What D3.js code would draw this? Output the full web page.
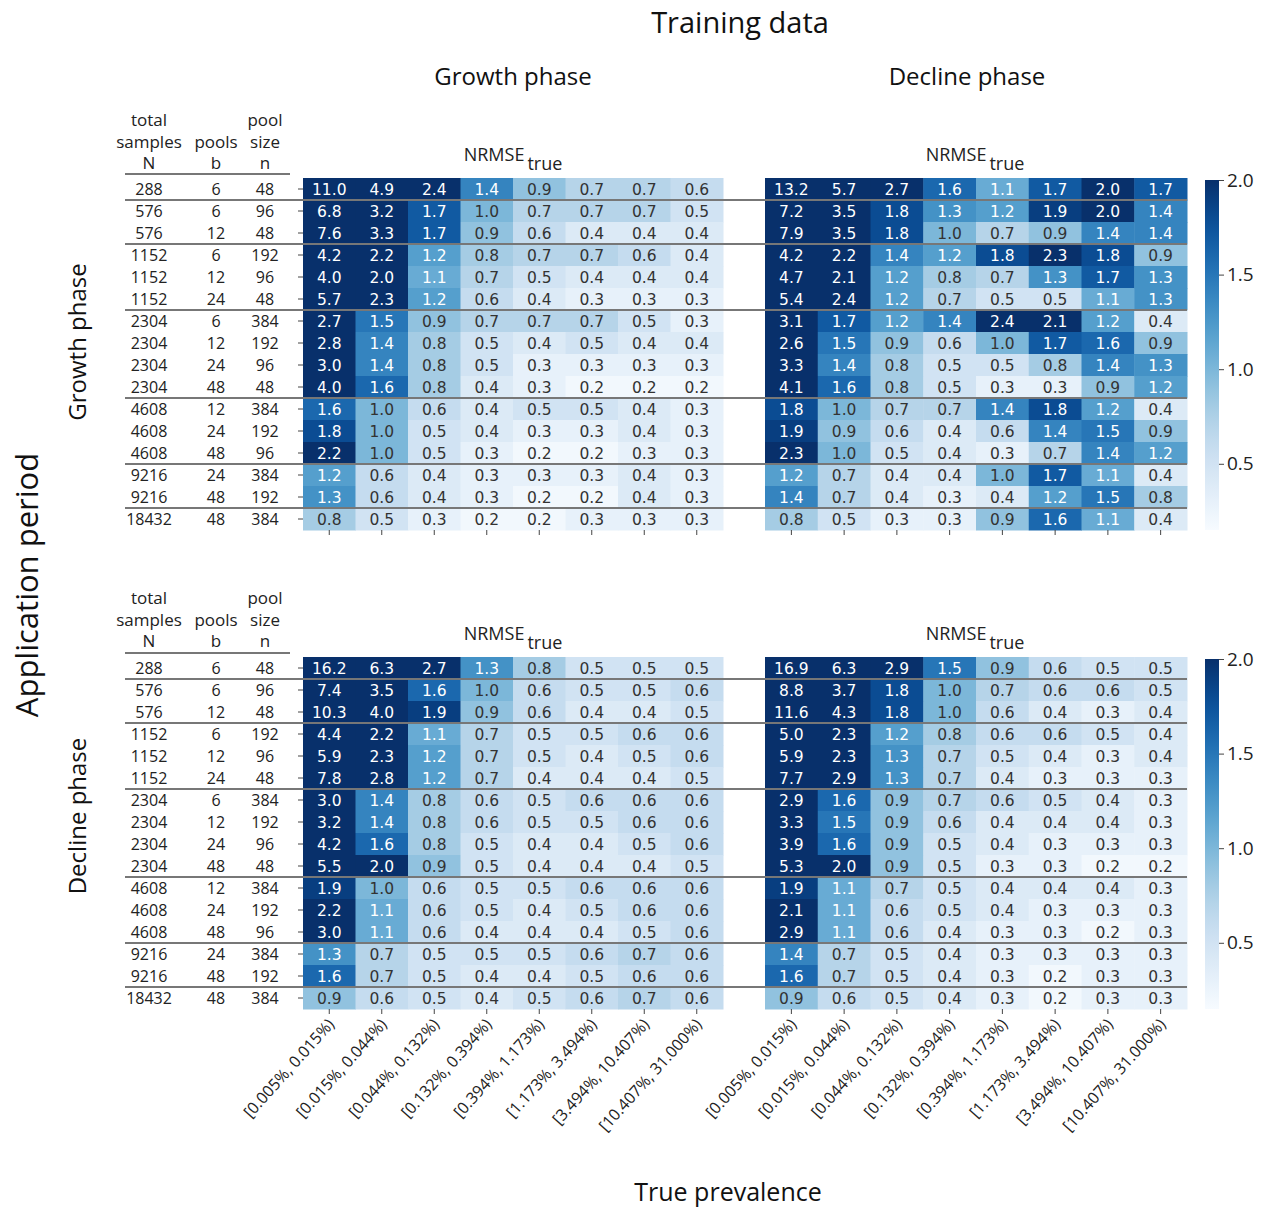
<!DOCTYPE html>
<html><head><meta charset="utf-8">
<script src="https://cdn.jsdelivr.net/npm/d3@7"></script>
<style>body{margin:0;background:#fff}text{font-family:"Open Sans","Liberation Sans",sans-serif}</style>
</head><body>
<svg id="c" width="1267" height="1207"></svg>
<script>
const rowN=[288,576,576,1152,1152,1152,2304,2304,2304,2304,4608,4608,4608,9216,9216,18432];
const rowB=[6,6,12,6,12,24,6,12,24,48,12,24,48,24,48,48];
const rowPool=[48,96,48,192,96,48,384,192,96,48,384,192,96,384,192,384];
const cols=["[0.005%, 0.015%)","[0.015%, 0.044%)","[0.044%, 0.132%)","[0.132%, 0.394%)","[0.394%, 1.173%)","[1.173%, 3.494%)","[3.494%, 10.407%)","[10.407%, 31.000%)"];
const groupBreaks=[1,3,6,10,13,15];
const cbTicks=[0.5,1.0,1.5,2.0];
const growthGrowth=[
[11.0,4.9,2.4,1.4,0.9,0.7,0.7,0.6],[6.8,3.2,1.7,1.0,0.7,0.7,0.7,0.5],[7.6,3.3,1.7,0.9,0.6,0.4,0.4,0.4],
[4.2,2.2,1.2,0.8,0.7,0.7,0.6,0.4],[4.0,2.0,1.1,0.7,0.5,0.4,0.4,0.4],[5.7,2.3,1.2,0.6,0.4,0.3,0.3,0.3],
[2.7,1.5,0.9,0.7,0.7,0.7,0.5,0.3],[2.8,1.4,0.8,0.5,0.4,0.5,0.4,0.4],[3.0,1.4,0.8,0.5,0.3,0.3,0.3,0.3],
[4.0,1.6,0.8,0.4,0.3,0.2,0.2,0.2],[1.6,1.0,0.6,0.4,0.5,0.5,0.4,0.3],[1.8,1.0,0.5,0.4,0.3,0.3,0.4,0.3],
[2.2,1.0,0.5,0.3,0.2,0.2,0.3,0.3],[1.2,0.6,0.4,0.3,0.3,0.3,0.4,0.3],[1.3,0.6,0.4,0.3,0.2,0.2,0.4,0.3],
[0.8,0.5,0.3,0.2,0.2,0.3,0.3,0.3]];
const growthDecline=[
[13.2,5.7,2.7,1.6,1.1,1.7,2.0,1.7],[7.2,3.5,1.8,1.3,1.2,1.9,2.0,1.4],[7.9,3.5,1.8,1.0,0.7,0.9,1.4,1.4],
[4.2,2.2,1.4,1.2,1.8,2.3,1.8,0.9],[4.7,2.1,1.2,0.8,0.7,1.3,1.7,1.3],[5.4,2.4,1.2,0.7,0.5,0.5,1.1,1.3],
[3.1,1.7,1.2,1.4,2.4,2.1,1.2,0.4],[2.6,1.5,0.9,0.6,1.0,1.7,1.6,0.9],[3.3,1.4,0.8,0.5,0.5,0.8,1.4,1.3],
[4.1,1.6,0.8,0.5,0.3,0.3,0.9,1.2],[1.8,1.0,0.7,0.7,1.4,1.8,1.2,0.4],[1.9,0.9,0.6,0.4,0.6,1.4,1.5,0.9],
[2.3,1.0,0.5,0.4,0.3,0.7,1.4,1.2],[1.2,0.7,0.4,0.4,1.0,1.7,1.1,0.4],[1.4,0.7,0.4,0.3,0.4,1.2,1.5,0.8],
[0.8,0.5,0.3,0.3,0.9,1.6,1.1,0.4]];
const declineGrowth=[
[16.2,6.3,2.7,1.3,0.8,0.5,0.5,0.5],[7.4,3.5,1.6,1.0,0.6,0.5,0.5,0.6],[10.3,4.0,1.9,0.9,0.6,0.4,0.4,0.5],
[4.4,2.2,1.1,0.7,0.5,0.5,0.6,0.6],[5.9,2.3,1.2,0.7,0.5,0.4,0.5,0.6],[7.8,2.8,1.2,0.7,0.4,0.4,0.4,0.5],
[3.0,1.4,0.8,0.6,0.5,0.6,0.6,0.6],[3.2,1.4,0.8,0.6,0.5,0.5,0.6,0.6],[4.2,1.6,0.8,0.5,0.4,0.4,0.5,0.6],
[5.5,2.0,0.9,0.5,0.4,0.4,0.4,0.5],[1.9,1.0,0.6,0.5,0.5,0.6,0.6,0.6],[2.2,1.1,0.6,0.5,0.4,0.5,0.6,0.6],
[3.0,1.1,0.6,0.4,0.4,0.4,0.5,0.6],[1.3,0.7,0.5,0.5,0.5,0.6,0.7,0.6],[1.6,0.7,0.5,0.4,0.4,0.5,0.6,0.6],
[0.9,0.6,0.5,0.4,0.5,0.6,0.7,0.6]];
const declineDecline=[
[16.9,6.3,2.9,1.5,0.9,0.6,0.5,0.5],[8.8,3.7,1.8,1.0,0.7,0.6,0.6,0.5],[11.6,4.3,1.8,1.0,0.6,0.4,0.3,0.4],
[5.0,2.3,1.2,0.8,0.6,0.6,0.5,0.4],[5.9,2.3,1.3,0.7,0.5,0.4,0.3,0.4],[7.7,2.9,1.3,0.7,0.4,0.3,0.3,0.3],
[2.9,1.6,0.9,0.7,0.6,0.5,0.4,0.3],[3.3,1.5,0.9,0.6,0.4,0.4,0.4,0.3],[3.9,1.6,0.9,0.5,0.4,0.3,0.3,0.3],
[5.3,2.0,0.9,0.5,0.3,0.3,0.2,0.2],[1.9,1.1,0.7,0.5,0.4,0.4,0.4,0.3],[2.1,1.1,0.6,0.5,0.4,0.3,0.3,0.3],
[2.9,1.1,0.6,0.4,0.3,0.3,0.2,0.3],[1.4,0.7,0.5,0.4,0.3,0.3,0.3,0.3],[1.6,0.7,0.5,0.4,0.3,0.2,0.3,0.3],
[0.9,0.6,0.5,0.4,0.3,0.2,0.3,0.3]];

const svg=d3.select("#c");
const vmin=0.15,vmax=2.0;
const color=d3.scaleSequential(d3.interpolateBlues).domain([vmin,vmax]).clamp(true);
function lum(c){const r=d3.rgb(c);const f=v=>{v/=255;return v<=0.03928?v/12.92:Math.pow((v+0.055)/1.055,2.4)};return 0.2126*f(r.r)+0.7152*f(r.g)+0.0722*f(r.b);}

function heat(data,x0,x1,y0,y1){
  const x=d3.scaleBand().domain(d3.range(8)).range([x0,x1]);
  const y=d3.scaleBand().domain(d3.range(16)).range([y0,y1]);
  const g=svg.append("g");
  data.forEach((row,i)=>row.forEach((v,j)=>{
    const c=color(v);
    g.append("rect").attr("x",x(j)).attr("y",y(i)).attr("width",x.bandwidth()+0.5).attr("height",y.bandwidth()+0.5).attr("fill",c);
    g.append("text").attr("x",x(j)+x.bandwidth()/2).attr("y",y(i)+y.bandwidth()/2).attr("dy","0.36em")
      .attr("text-anchor","middle").style("font-family","DejaVu Sans").attr("font-size",15.5)
      .attr("fill",lum(c)<0.408?"#fff":"#333").text(v.toFixed(1));
  }));
  const ax=g.append("g").attr("transform",`translate(0,${y1})`).call(d3.axisBottom(x).tickSize(5).tickFormat(""));
  ax.select(".domain").remove(); ax.selectAll("line").attr("stroke","#444");
  return {x,y};
}
function panelRow(top,bottom,dL,dR,showX,hdrY){
  const L=heat(dL,303,723,top,bottom);
  heat(dR,765,1187,top,bottom);
  const y=L.y;
  const ya=svg.append("g").attr("transform","translate(303,0)").call(d3.axisLeft(y).tickSize(5).tickFormat(""));
  ya.select(".domain").remove(); ya.selectAll("line").attr("stroke","#444");
  const lab=svg.append("g").attr("font-size",16).attr("fill","#222").attr("text-anchor","middle");
  rowN.forEach((n,i)=>{
    const cy=y(i)+y.bandwidth()/2;
    lab.append("text").attr("x",149).attr("y",cy).attr("dy","0.36em").text(n);
    lab.append("text").attr("x",216).attr("y",cy).attr("dy","0.36em").text(rowB[i]);
    lab.append("text").attr("x",265).attr("y",cy).attr("dy","0.36em").text(rowPool[i]);
  });
  const h=svg.append("g").attr("font-size",17).attr("fill","#222").attr("text-anchor","middle");
  [["total",149,0],["samples",149,1],["N",149,2],["pools",216,1],["b",216,2],["pool",265,0],["size",265,1],["n",265,2]]
   .forEach(d=>h.append("text").attr("x",d[1]).attr("y",hdrY+d[2]*21.5).text(d[0]));
  svg.append("line").attr("x1",125).attr("x2",290).attr("y1",top-4).attr("y2",top-4).attr("stroke","#777").attr("stroke-width",2);
  groupBreaks.forEach(b=>svg.append("line").attr("x1",125).attr("x2",1187).attr("y1",y(b)).attr("y2",y(b)).attr("stroke","#777").attr("stroke-width",2));
  [513,975].forEach(cx=>{
    const t=svg.append("text").attr("x",cx).attr("y",top-17).attr("text-anchor","middle").attr("font-size",18).attr("fill","#222");
    t.append("tspan").text("NRMSE");
    t.append("tspan").attr("dy",9).attr("dx",3).text("true");
  });
  const cb=d3.scaleLinear().domain([vmin,vmax]).range([bottom,top+2]);
  const id="g"+top;
  const grad=svg.append("defs").append("linearGradient").attr("id",id).attr("x1",0).attr("x2",0).attr("y1",1).attr("y2",0);
  d3.range(0,1.001,0.05).forEach(t=>grad.append("stop").attr("offset",t).attr("stop-color",color(vmin+t*(vmax-vmin))));
  svg.append("rect").attr("x",1205).attr("y",top+2).attr("width",14).attr("height",bottom-top-2).attr("fill",`url(#${id})`);
  const ca=svg.append("g").attr("transform","translate(1219,0)").call(d3.axisRight(cb).tickValues(cbTicks).tickSize(5).tickFormat(d3.format(".1f")));
  ca.select(".domain").remove(); ca.selectAll("line").attr("stroke","#444");
  ca.selectAll("text").attr("font-size",19).attr("fill","#222").style("font-family","'Open Sans',sans-serif");
  if(showX){
    [L.x,d3.scaleBand().domain(d3.range(8)).range([765,1187])].forEach(x=>{
      cols.forEach((c,j)=>svg.append("text").attr("text-anchor","end").attr("font-size",16).attr("fill","#222")
        .attr("transform",`translate(${x(j)+x.bandwidth()/2+6},${bottom+16}) rotate(-48)`).text(c));
    });
  }
}
panelRow(178,530,growthGrowth,growthDecline,false,126);
panelRow(657,1009,declineGrowth,declineDecline,true,604);

const T=(x,y,s,t,r)=>svg.append("text").attr("text-anchor","middle").attr("font-size",s).attr("fill","#111")
  .attr("transform",`translate(${x},${y})`+(r?" rotate(-90)":"")).text(t);
T(740,33,29,"Training data");
T(513,85,24,"Growth phase");
T(967,85,24,"Decline phase");
T(38,585,31,"Application period",true);
T(86,342,24,"Growth phase",true);
T(86,816,24,"Decline phase",true);
T(728,1201,25,"True prevalence");
</script></body></html>
